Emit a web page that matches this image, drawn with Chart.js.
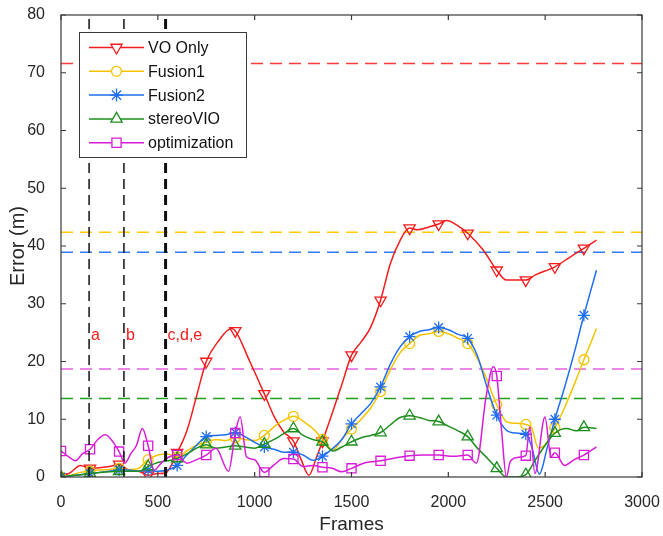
<!DOCTYPE html>
<html>
<head>
<meta charset="utf-8">
<title>Error vs Frames</title>
<script src="https://cdn.jsdelivr.net/npm/chart.js@4.4.1/dist/chart.umd.min.js"></script>
<style>
    html, body { margin: 0; padding: 0; background: #fff; }
    #wrap { width: 663px; height: 536px; }
</style>
</head>
<body>
<div id="wrap"><canvas id="error-chart" width="663" height="536"></canvas></div>
<script>
// Values
const xTicks = [0, 500, 1000, 1500, 2000, 2500, 3000];
const yTicks = [0, 10, 20, 30, 40, 50, 60, 70, 80];
const markerFrames = [0, 150, 300, 450, 600, 750, 900, 1050, 1200, 1350, 1500, 1650, 1800, 1950, 2100, 2250, 2400, 2550, 2700];

const voFrames = [0, 50, 100, 150, 200, 250, 300, 350, 400, 450, 500, 540, 600, 650, 700, 750, 810, 880, 900, 975,
    1050, 1100, 1150, 1200, 1240, 1280, 1320, 1350, 1400, 1450, 1500, 1550, 1600, 1650, 1700, 1750, 1800, 1840, 1900, 1950,
    1990, 2050, 2100, 2180, 2250, 2300, 2400, 2450, 2550, 2625, 2700, 2765];
const voError = [0, 0.8, 2.0, 1.5, 1.6, 1.8, 2.2, 1.2, 1.0, 0.3, 0.6, 0.7, 4.2, 8.0, 14.0, 20.0, 23.4, 25.7, 25.3, 20.0,
    14.4, 10.5, 7.8, 6.2, 3.0, 0.3, 3.5, 6.2, 11.0, 16.0, 21.1, 23.4, 26.0, 30.6, 36.9, 40.9, 43.1, 42.8, 43.3, 43.8,
    44.4, 43.5, 42.2, 39.3, 35.8, 34.1, 34.1, 35.0, 36.4, 38.0, 39.6, 41.0];

const fusion1Frames = [0, 50, 100, 150, 200, 250, 300, 350, 400, 450, 500, 550, 600, 650, 700, 750, 800, 850, 900, 950,
    1000, 1050, 1110, 1150, 1200, 1265, 1310, 1350, 1405, 1450, 1500, 1550, 1600, 1650, 1700, 1750, 1800, 1850, 1900, 1950,
    2000, 2050, 2100, 2150, 2200, 2250, 2300, 2350, 2400, 2430, 2465, 2505, 2550, 2600, 2650, 2700, 2765];
const fusion1Error = [0, 0.3, 0.8, 1.0, 1.2, 1.3, 1.5, 1.3, 1.5, 3.0, 3.8, 4.0, 3.5, 4.5, 5.5, 6.0, 6.5, 6.3, 6.8, 6.5,
    6.3, 7.2, 9.0, 9.8, 10.5, 9.3, 8.1, 6.5, 4.7, 6.5, 8.3, 10.0, 12.0, 14.8, 18.5, 21.5, 23.1, 24.5, 24.8, 25.2,
    24.8, 24.0, 23.1, 20.5, 16.8, 12.5, 9.6, 9.3, 9.1, 8.5, 5.0, 5.8, 8.5, 12.0, 16.0, 20.3, 25.7];

const fusion2Frames = [0, 50, 100, 150, 200, 250, 300, 350, 400, 450, 500, 550, 600, 650, 700, 750, 800, 850, 900, 950,
    1000, 1050, 1100, 1150, 1200, 1250, 1300, 1350, 1405, 1450, 1500, 1550, 1600, 1650, 1700, 1750, 1800, 1850, 1900, 1950,
    2000, 2050, 2100, 2150, 2200, 2250, 2300, 2350, 2400, 2430, 2470, 2510, 2550, 2600, 2650, 2700, 2765];
const fusion2Error = [0, 0.2, 0.4, 0.6, 0.8, 1.0, 1.2, 1.2, 1.0, 1.2, 1.0, 1.2, 2.0, 3.8, 5.5, 7.0, 7.2, 7.3, 7.7, 7.0,
    6.0, 5.2, 4.8, 4.3, 4.3, 3.8, 2.9, 3.6, 5.0, 6.5, 9.2, 11.0, 12.8, 15.6, 19.5, 22.5, 24.3, 25.2, 25.5, 25.9,
    25.5, 24.7, 24.0, 21.0, 15.5, 10.7, 8.1, 7.6, 7.4, 5.3, 0.5, 5.0, 10.0, 15.5, 21.5, 28.0, 35.8];

const stereoFrames = [0, 50, 100, 150, 200, 250, 300, 350, 400, 450, 500, 550, 600, 650, 700, 750, 800, 850, 900, 950,
    1000, 1050, 1100, 1150, 1200, 1250, 1300, 1350, 1405, 1450, 1500, 1550, 1600, 1650, 1700, 1750, 1800, 1850, 1900, 1950,
    2000, 2050, 2100, 2150, 2200, 2250, 2300, 2350, 2400, 2450, 2500, 2550, 2610, 2660, 2700, 2765];
const stereoError = [0, 0.2, 0.4, 0.6, 0.8, 0.9, 1.0, 1.0, 1.0, 1.8, 2.5, 2.8, 3.2, 4.0, 5.0, 5.6, 5.0, 5.2, 5.4, 5.2,
    5.0, 5.7, 6.5, 7.5, 8.4, 7.2, 6.5, 6.1, 4.5, 5.2, 6.1, 6.8, 7.2, 7.7, 9.0, 10.3, 10.6, 10.3, 9.8, 9.6,
    8.8, 8.0, 7.0, 5.0, 3.3, 1.5, 0, 0, 0.4, 3.0, 5.5, 7.6, 8.4, 8.0, 8.6, 8.4];

const optFrames = [0, 40, 75, 110, 150, 190, 230, 270, 300, 330, 360, 390, 420, 450, 480, 520, 560, 600, 650, 700,
    750, 800, 865, 900, 925, 958, 1000, 1036, 1050, 1100, 1150, 1200, 1250, 1300, 1350, 1400, 1450, 1500, 1575, 1650,
    1725, 1800, 1875, 1950, 2025, 2100, 2145, 2195, 2232, 2250, 2275, 2300, 2320, 2360, 2400, 2421, 2447, 2499, 2530, 2550,
    2600, 2650, 2700, 2765];
const optError = [4.5, 3.5, 2.8, 4.0, 4.8, 6.5, 7.3, 6.0, 4.4, 2.4, 4.0, 5.5, 8.4, 5.4, 1.2, 2.5, 3.5, 3.8, 2.4, 3.0,
    3.8, 5.0, 1.0, 7.6, 10.4, 3.5, 3.0, 1.2, 0.8, 2.1, 3.2, 3.1, 1.8, 2.0, 1.7, 1.5, 0.9, 1.5, 2.5, 2.8,
    3.3, 3.7, 3.8, 3.8, 3.6, 3.8, 2.4, 13.9, 19.1, 17.5, 8.0, 0, 2.7, 3.4, 3.7, 8.7, 0.6, 10.4, 3.5, 4.2,
    2.0, 3.0, 3.8, 5.2];

// dashed horizontal levels, one per method
const levelValues = [71.6, 42.4, 38.9, 13.6, 18.7];
// vertical event lines and their labels
const eventFrames = [145, 325, 540];
const eventLabels = ['a', 'b', 'c,d,e'];
const eventLabelY = 24.5;

const FONT = "'Liberation Sans', Arial, Helvetica, sans-serif";
const TEXT = '#262626';

const pts = (xs, ys) => xs.map((x, i) => ({ x: x, y: ys[i] }));
const isMarker = ctx => ctx.raw && markerFrames.includes(ctx.raw.x);

function series(label, xs, ys, color, style, radius, order, rotation) {
    return {
        label: label,
        data: pts(xs, ys),
        borderColor: color,
        borderWidth: 1.5,
        cubicInterpolationMode: 'monotone',
        pointStyle: style,
        pointRotation: rotation || 0,
        pointRadius: ctx => isMarker(ctx) ? radius : 0,
        pointHoverRadius: 0,
        pointBackgroundColor: 'rgba(0,0,0,0)',
        pointBorderColor: color,
        pointBorderWidth: 1.3,
        order: order,
        isSeries: true
    };
}

function hLine(value, color) {
    return {
        data: [{ x: 0, y: value }, { x: 3000, y: value }],
        borderColor: color,
        borderWidth: 1.5,
        borderDash: [12, 7],
        pointRadius: 0,
        tension: 0,
        order: 20
    };
}

function vLine(frame, width) {
    return {
        data: [{ x: frame, y: 0 }, { x: frame, y: 80 }],
        borderColor: '#111',
        borderWidth: width,
        borderDash: [10, 6],
        pointRadius: 0,
        tension: 0,
        order: 0
    };
}

const datasets = [
    series('VO Only', voFrames, voError, '#f41c1c', 'triangle', 6.5, 5, 180),
    series('Fusion1', fusion1Frames, fusion1Error, '#f5c400', 'circle', 5, 4),
    series('Fusion2', fusion2Frames, fusion2Error, '#1f6ef5', 'star', 6, 3),
    series('stereoVIO', stereoFrames, stereoError, '#1e8f1e', 'triangle', 6.5, 2),
    series('optimization', optFrames, optError, '#d81bd8', 'rect', 6.5, 1),
    hLine(levelValues[0], '#ff3b3b'),
    hLine(levelValues[1], '#ffcc00'),
    hLine(levelValues[2], '#2f7df6'),
    hLine(levelValues[3], '#22a022'),
    hLine(levelValues[4], '#e660e6'),
    vLine(eventFrames[0], 1.5),
    vLine(eventFrames[1], 1.5),
    vLine(eventFrames[2], 3)
];

// box around the plot with inward ticks (matlab look)
const framePlugin = {
    id: 'frame',
    afterDatasetsDraw(chart) {
        const { ctx, chartArea: a, scales } = chart;
        ctx.save();
        ctx.strokeStyle = '#3a3a3a';
        ctx.lineWidth = 1.2;
        ctx.strokeRect(a.left, a.top, a.right - a.left, a.bottom - a.top);
        ctx.beginPath();
        xTicks.forEach(v => {
            const px = scales.x.getPixelForValue(v);
            ctx.moveTo(px, a.bottom); ctx.lineTo(px, a.bottom - 5);
            ctx.moveTo(px, a.top); ctx.lineTo(px, a.top + 5);
        });
        yTicks.forEach(v => {
            const py = scales.y.getPixelForValue(v);
            ctx.moveTo(a.left, py); ctx.lineTo(a.left + 5, py);
            ctx.moveTo(a.right, py); ctx.lineTo(a.right - 5, py);
        });
        ctx.stroke();

        // event labels
        ctx.fillStyle = '#f41c1c';
        ctx.font = '16px ' + FONT;
        ctx.textBaseline = 'middle';
        ctx.textAlign = 'left';
        eventFrames.forEach((f, i) => {
            ctx.fillText(eventLabels[i], scales.x.getPixelForValue(f) + 2, scales.y.getPixelForValue(eventLabelY));
        });
        ctx.restore();
    }
};

// legend box in the upper left corner of the plot
const legendPlugin = {
    id: 'insideLegend',
    afterDraw(chart) {
        const { ctx } = chart;
        const items = chart.data.datasets.filter(d => d.isSeries);
        const box = { x: 79, y: 32, w: 167, h: 125 };
        ctx.save();
        ctx.fillStyle = '#fff';
        ctx.fillRect(box.x, box.y, box.w, box.h);
        ctx.strokeStyle = '#3a3a3a';
        ctx.lineWidth = 1;
        ctx.strokeRect(box.x + 0.5, box.y + 0.5, box.w, box.h);
        ctx.font = '16px ' + FONT;
        ctx.textBaseline = 'middle';
        ctx.textAlign = 'left';
        items.forEach((d, i) => {
            const y = 47.5 + i * 23.8;
            ctx.strokeStyle = d.borderColor;
            ctx.lineWidth = 1.5;
            ctx.beginPath();
            ctx.moveTo(89, y);
            ctx.lineTo(144, y);
            ctx.stroke();
            ctx.fillStyle = '#fff';
            ctx.lineWidth = 1.3;
            Chart.helpers.drawPoint(ctx, {
                pointStyle: d.pointStyle,
                rotation: d.pointRotation,
                radius: d.pointStyle === 'circle' ? 5 : 6.5,
                borderWidth: 1.3
            }, 116.5, y);
            ctx.fillStyle = '#111';
            ctx.fillText(d.label, 148, y + 1);
        });
        ctx.restore();
    }
};

new Chart(document.getElementById('error-chart'), {
    type: 'line',
    data: { datasets: datasets },
    options: {
        responsive: false,
        animation: false,
        devicePixelRatio: 1,
        layout: { padding: { top: 15, right: 21, left: 0, bottom: 0 } },
        plugins: {
            legend: { display: false },
            tooltip: { enabled: false }
        },
        scales: {
            x: {
                type: 'linear',
                min: 0,
                max: 3000,
                afterBuildTicks: s => { s.ticks = xTicks.map(v => ({ value: v })); },
                afterFit: s => { s.height = 59; s.paddingLeft = 0; s.paddingRight = 0; },
                grid: { display: false },
                border: { display: false },
                ticks: { color: TEXT, font: { family: FONT, size: 16 }, padding: 8, maxRotation: 0, callback: v => String(v) },
                title: { display: true, text: 'Frames', color: TEXT, font: { family: FONT, size: 19 }, padding: { top: 0, bottom: 0 } }
            },
            y: {
                min: 0,
                max: 80,
                afterBuildTicks: s => { s.ticks = yTicks.map(v => ({ value: v })); },
                afterFit: s => { s.width = 61; s.paddingTop = 0; s.paddingBottom = 0; },
                grid: { display: false },
                border: { display: false },
                ticks: { color: TEXT, font: { family: FONT, size: 16 }, padding: 8, callback: v => String(v) },
                title: { display: true, text: 'Error (m)', color: TEXT, font: { family: FONT, size: 20 }, padding: { top: 6, bottom: 0 } }
            }
        }
    },
    plugins: [framePlugin, legendPlugin]
});
</script>
</body>
</html>
